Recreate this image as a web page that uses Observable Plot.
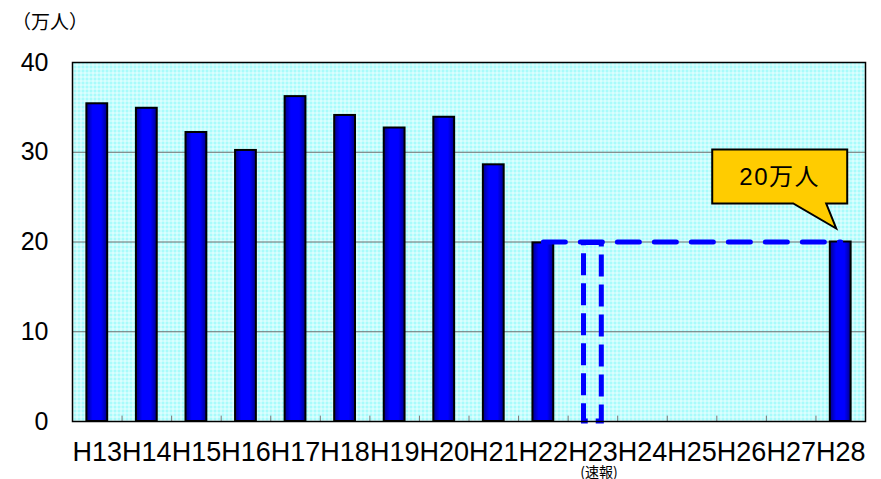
<!DOCTYPE html>
<html><head><meta charset="utf-8">
<script src="https://cdn.jsdelivr.net/npm/d3@7"></script>
<script src="https://cdn.jsdelivr.net/npm/@observablehq/plot@0.6"></script>
<style>
body{margin:0;background:#fff;}
#chart{position:relative;width:881px;height:479px;}
#unit{position:absolute;left:12px;top:7px;font:19px 'Noto Sans CJK JP','Liberation Sans',sans-serif;color:#000;}
</style>
</head><body><div id="chart"><div id="unit"></div></div>
<script>
const years = ["H13","H14","H15","H16","H17","H18","H19","H20","H21","H22","H23","H24","H25","H26","H27","H28"];
const values = [35.4, 34.9, 32.2, 30.2, 36.2, 34.1, 32.7, 33.9, 28.6, 19.9, null, null, null, null, null, 20.0];
const prelimYear = "H23";
const prelimValue = 19.9;
const prelimNote = "(速報)";
const targetValue = 20;
const lineFrom = "H22";
const lineTo = "H28";
const calloutLabel = "20万人";
const unitLabel = "（万人）";
const yTicks = [0, 10, 20, 30, 40];
const gridTicks = [10, 20, 30];

document.getElementById("unit").textContent = unitLabel;
const data = years.map((y, i) => ({year: y, value: values[i]})).filter(d => d.value != null);

const W = 881, H = 479, ML = 72, MR = 16, MT = 62, MB = 58;
const font = "'Liberation Sans', Arial, 'Noto Sans CJK JP', sans-serif";

const plot = Plot.plot({
  width: W, height: H,
  marginLeft: ML, marginRight: MR, marginTop: MT, marginBottom: MB,
  style: {fontFamily: font, background: "transparent", color: "#000", fontSize: "25px"},
  x: {domain: years, paddingInner: 0.58, paddingOuter: 0.29, round: false, label: null, tickSize: 0, tickPadding: 20},
  y: {domain: [0, 40], ticks: yTicks, label: null, tickSize: 0, tickPadding: 24},
  marks: [
    Plot.frame({fill: "url(#bgpat)"}),
    Plot.gridY(gridTicks, {stroke: "#6e6e6e", strokeOpacity: 1, strokeWidth: 1}),
    Plot.ruleX(years.slice(1), {x: d => d, y1: 0, y2: 0.6, stroke: "#777", dx: -(W - ML - MR) / years.length / 2}),
    Plot.barY(data, {x: "year", y: "value", fill: "url(#bargrad)", stroke: "#000", strokeWidth: 2}),
    Plot.barY([{year: prelimYear, value: prelimValue}], {x: "year", y: "value", fill: "none", stroke: "#0000ff", strokeWidth: 5, strokeDasharray: "22,8", insetLeft: 1.5, insetRight: 1.5}),
    Plot.line([{year: lineFrom, value: targetValue}, {year: lineTo, value: targetValue}], {x: "year", y: "value", stroke: "#0000ff", strokeWidth: 5, strokeDasharray: "22,15"}),
    Plot.frame({stroke: "#000", strokeWidth: 1.5}),
    Plot.text([prelimYear], {x: d => d, frameAnchor: "bottom", dx: 6, dy: 55, text: () => prelimNote, fontSize: 14, fontFamily: "'Noto Sans CJK JP', sans-serif"})
  ]
});

const svg = d3.select(plot);
svg.selectAll("[aria-label='x-axis tick label'], [aria-label='x-axis']").style("font-size", "27px");

const defs = svg.insert("defs", ":first-child");
const pat = defs.append("pattern").attr("id", "bgpat").attr("patternUnits", "userSpaceOnUse").attr("width", 4).attr("height", 4);
pat.append("rect").attr("width", 4).attr("height", 4).attr("fill", "#a8fbfb");
pat.append("rect").attr("width", 4).attr("height", 1).attr("fill", "#ffffff").attr("fill-opacity", 0.7);
pat.append("rect").attr("width", 1).attr("height", 4).attr("fill", "#ffffff").attr("fill-opacity", 0.7);
const grad = defs.append("linearGradient").attr("id", "bargrad").attr("x1", 0).attr("x2", 1).attr("y1", 0).attr("y2", 0);
[[0, "#00008c"], [0.3, "#0000ff"], [0.7, "#0000ff"], [1, "#00008c"]].forEach(([o, c]) => grad.append("stop").attr("offset", o).attr("stop-color", c));

// callout anchored to the H28 bar top via the plot's scales
const xs = plot.scale("x"), ys = plot.scale("y");
const ax = xs.apply(lineTo) + xs.bandwidth / 2;
const ay = ys.apply(targetValue);
const bx0 = ax - 128, bx1 = ax + 7, by0 = ay - 92, by1 = ay - 38;
const tipX = ax - 4, tipY = ay - 13;
const p = `M${bx0},${by0}H${bx1}V${by1}H${ax - 14}L${tipX},${tipY}L${ax - 47},${by1}H${bx0}Z`;
const cg = svg.append("g");
cg.append("path").attr("d", p).attr("fill", "#ffcc00").attr("stroke", "#000").attr("stroke-width", 2);
cg.append("text").attr("x", (bx0 + bx1) / 2).attr("y", (by0 + by1) / 2).attr("text-anchor", "middle").attr("dy", "0.35em")
  .attr("font-size", 24).attr("letter-spacing", 1.5).attr("font-family", "'Liberation Sans','Noto Sans CJK JP',sans-serif").text(calloutLabel);

document.getElementById("chart").appendChild(plot);
</script>
</body></html>
